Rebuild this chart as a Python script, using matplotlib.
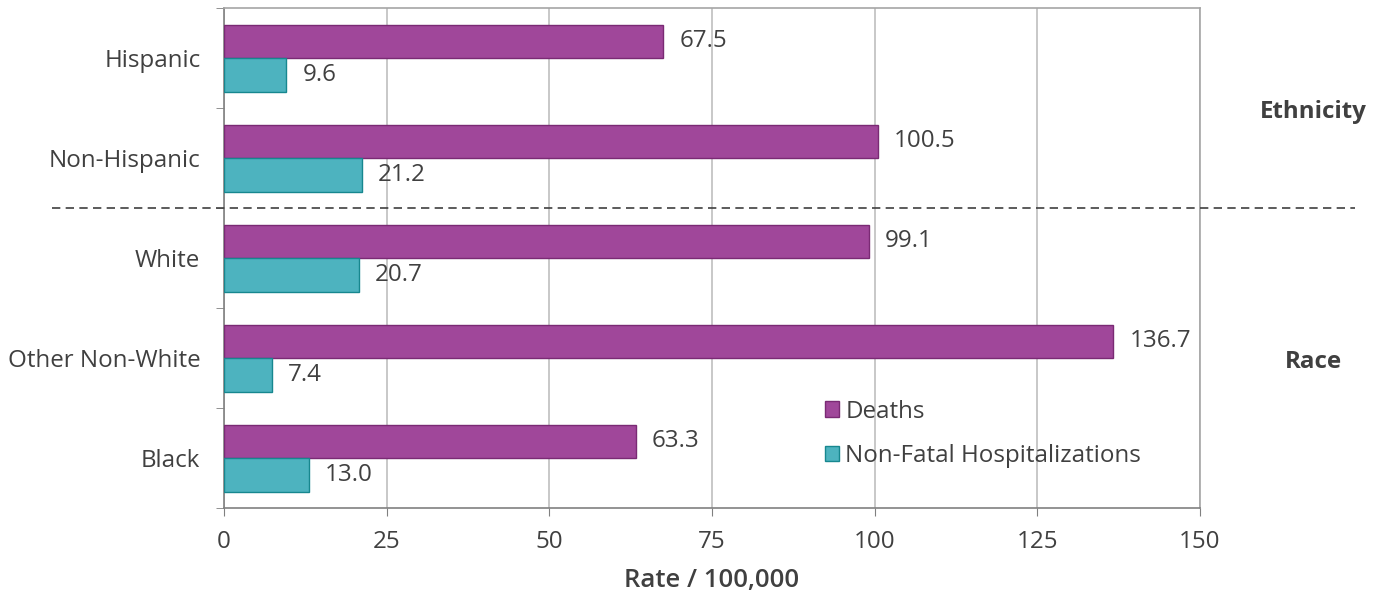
import matplotlib
matplotlib.use("Agg")
import matplotlib.pyplot as plt
import numpy as np
from matplotlib.lines import Line2D

categories = ["Hispanic", "Non-Hispanic", "White", "Other Non-White", "Black"]
deaths = [67.5, 100.5, 99.1, 136.7, 63.3]
hospitalizations = [9.6, 21.2, 20.7, 7.4, 13.0]
xticks = [0, 25, 50, 75, 100, 125, 150]
group_labels = ["Ethnicity", "Race"]

plt.rcParams["font.family"] = ["Open Sans", "DejaVu Sans"]

W, H = 1378, 597
fig = plt.figure(figsize=(W / 100, H / 100), dpi=100)
ax = fig.add_axes([224 / W, 1 - 508 / H, (1200 - 224) / W, (508 - 8) / H])

purple, purple_edge = "#A0479A", "#7A2A74"
teal, teal_edge = "#4DB3BF", "#17878F"
text_col = "#404040"
fs = 17.4

y = np.arange(len(categories))
bh = 0.335
ax.barh(y - bh / 2, deaths, height=bh, color=purple, edgecolor=purple_edge,
        linewidth=1, label="Deaths", zorder=3)
ax.barh(y + bh / 2, hospitalizations, height=bh, color=teal, edgecolor=teal_edge,
        linewidth=1, label="Non-Fatal Hospitalizations", zorder=3)

for yi, d, h in zip(y, deaths, hospitalizations):
    ax.annotate(f"{d:.1f}", (d, yi - bh / 2), xytext=(11.5, 0), textcoords="offset points",
                va="center", ha="left", fontsize=fs, color=text_col)
    ax.annotate(f"{h:.1f}", (h, yi + bh / 2), xytext=(11.5, 0), textcoords="offset points",
                va="center", ha="left", fontsize=fs, color=text_col)

ax.set_xlim(0, 150)
ax.set_ylim(len(categories) - 0.5, -0.5)
ax.set_xticks(xticks)
ax.set_xticklabels([str(t) for t in xticks], fontsize=fs, color=text_col)
ax.set_yticks(y)
ax.set_yticklabels(categories, fontsize=fs, color=text_col)
ax.set_yticks(np.arange(len(categories) + 1) - 0.5, minor=True)
ax.tick_params(axis="y", which="major", length=0, pad=17)
ax.tick_params(axis="y", which="minor", length=6, color="#808080")
ax.tick_params(axis="x", length=6, color="#808080", pad=10)
ax.grid(axis="x", color="#BFBFBF", linewidth=1.2, zorder=0)
for s in ax.spines.values():
    s.set_color("#A6A6A6")
    s.set_linewidth(1.2)
ax.spines["left"].set_color("#808080")
ax.spines["bottom"].set_color("#808080")

ax.set_xlabel("Rate / 100,000", fontsize=18.5, fontweight="semibold", color=text_col,
              labelpad=10)

# separator between ethnicity and race groups
fig.add_artist(Line2D([52 / W, 1355 / W], [1 - 208 / H, 1 - 208 / H], color="#404040",
                      linestyle=(0, (5, 3.2)), linewidth=1.2))

fig.text(1313 / W, 1 - 112 / H, group_labels[0], fontsize=fs, fontweight="bold",
         color=text_col, ha="center", va="center")
fig.text(1313 / W, 1 - 362 / H, group_labels[1], fontsize=fs, fontweight="bold",
         color=text_col, ha="center", va="center")

leg = ax.legend(loc="upper left", bbox_to_anchor=(815 / W, 1 - 390 / H),
                bbox_transform=fig.transFigure, frameon=False, fontsize=fs,
                handlelength=0.6, handleheight=0.6, handletextpad=0.25, labelspacing=0.85,
                borderaxespad=0)
for t in leg.get_texts():
    t.set_color(text_col)

fig.savefig("out.png", dpi=100)
